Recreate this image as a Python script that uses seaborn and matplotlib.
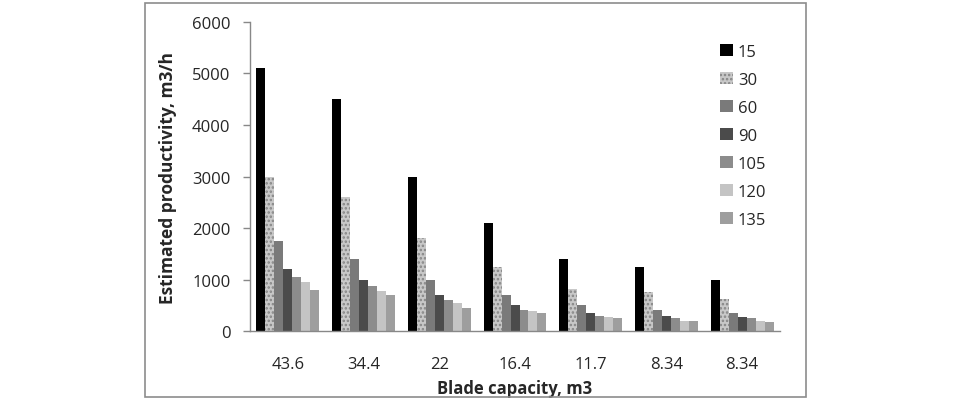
import matplotlib
matplotlib.use("Agg")
import matplotlib.pyplot as plt
import matplotlib.patches as mpatches
from matplotlib.ticker import FixedLocator, MultipleLocator
import seaborn as sns
import pandas as pd
import numpy as np

# data
capacities = ["43.6", "34.4", "22", "16.4", "11.7", "8.34", "8.34"]
series = ["15", "30", "60", "90", "105", "120", "135"]
p15 = [5100, 4500, 3000, 2100, 1400, 1250, 1000]
p30 = [3000, 2600, 1800, 1250, 820, 750, 620]
p60 = [1750, 1400, 1000, 700, 500, 400, 350]
p90 = [1200, 1000, 700, 500, 350, 300, 280]
p105 = [1050, 870, 600, 410, 300, 250, 250]
p120 = [950, 780, 550, 390, 280, 200, 200]
p135 = [800, 700, 450, 350, 250, 200, 180]

colors = ["#000000", "#c8c8c8", "#7a7a7a", "#4b4b4b", "#8c8c8c", "#c4c4c4", "#9e9e9e"]

rows = []
for name, vals in zip(series, [p15, p30, p60, p90, p105, p120, p135]):
    for i, v in enumerate(vals):
        rows.append({"group": i, "series": name, "value": v})
df = pd.DataFrame(rows)

sns.set_style("white")
plt.rcParams["font.family"] = ["Open Sans", "DejaVu Sans"]
plt.rcParams["hatch.color"] = "#858585"
plt.rcParams["hatch.linewidth"] = 1.2

fig = plt.figure(figsize=(9.63, 4.02), dpi=100)
ax = fig.add_axes([0.2596, 0.1741, 0.5504, 0.7687])

sns.barplot(data=df, x="group", y="value", hue="series", hue_order=series,
            order=list(range(7)), palette=colors, width=0.83, saturation=1,
            linewidth=0, ax=ax, legend=False)

# speckled look for the "30" series
for bar in ax.containers[1]:
    bar.set_hatch("....")
    bar.set_edgecolor("#858585")
    bar.set_linewidth(0)

ax.set_xlim(-0.5, 6.5)
ax.set_ylim(0, 6000)
ax.yaxis.set_major_locator(MultipleLocator(1000))
ax.set_xticks(range(7))
ax.set_xticklabels(capacities)
ax.xaxis.set_minor_locator(FixedLocator(np.arange(-0.5, 7, 1)))
ax.tick_params(axis="x", which="major", length=0, pad=18, labelsize=12)
ax.tick_params(axis="x", which="minor", length=5, width=1, color="#888888", direction="out")
ax.tick_params(axis="y", which="major", length=5, width=1, color="#888888",
               direction="out", left=True, pad=9, labelsize=12)

for s in ["top", "right"]:
    ax.spines[s].set_visible(False)
for s in ["left", "bottom"]:
    ax.spines[s].set_color("#888888")
    ax.spines[s].set_linewidth(1)

ax.set_xlabel("Blade capacity, m3", fontsize=12, fontweight="bold", labelpad=5)
ax.set_ylabel("Estimated productivity, m3/h", fontsize=12.5, fontweight="bold", labelpad=11)

handles = []
for name, c in zip(series, colors):
    if name == "30":
        h = mpatches.Patch(facecolor=c, edgecolor="#858585", hatch="....", linewidth=0, label=name)
    else:
        h = mpatches.Patch(facecolor=c, edgecolor="none", label=name)
    handles.append(h)
ax.legend(handles=handles, loc="upper left", bbox_to_anchor=(0.875, 0.95),
          frameon=False, fontsize=12, handlelength=0.75, handleheight=0.75,
          handletextpad=0.3, labelspacing=0.72, borderaxespad=0)

# outer chart border
fig.patches.append(mpatches.Rectangle((145 / 963, 4 / 402), 661 / 963, 394 / 402,
                                      transform=fig.transFigure, fill=False,
                                      edgecolor="#8c8c8c", linewidth=1.2))

fig.savefig("out.png", dpi=100)
